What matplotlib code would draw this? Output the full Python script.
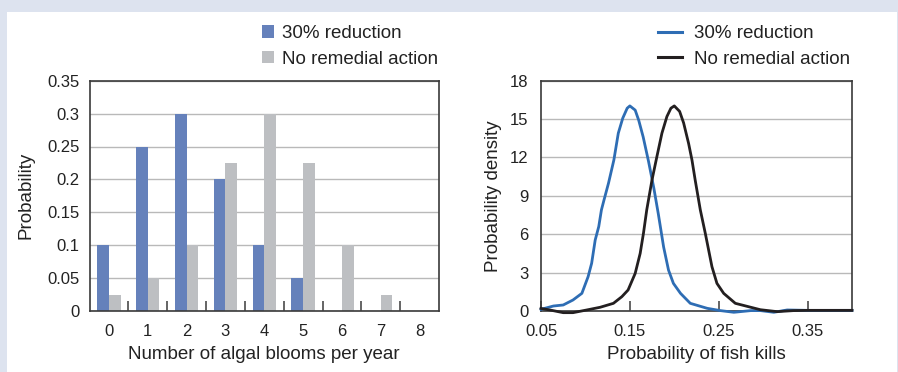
import matplotlib
matplotlib.use("Agg")
import matplotlib.pyplot as plt
from matplotlib.patches import Rectangle, Patch
from matplotlib.lines import Line2D

# ---------------- data ----------------
blooms = [0, 1, 2, 3, 4, 5, 6, 7, 8]
prob_reduction = [0.10, 0.25, 0.30, 0.20, 0.10, 0.05, 0.0, 0.0, 0.0]
prob_no_action = [0.025, 0.05, 0.10, 0.225, 0.30, 0.225, 0.10, 0.025, 0.0]

fish_x_reduction = [0.050, 0.064, 0.075, 0.086, 0.096, 0.103, 0.107, 0.111, 0.115, 0.118,
                    0.121, 0.126, 0.132, 0.137, 0.142, 0.147, 0.150, 0.156, 0.160, 0.165,
                    0.171, 0.177, 0.182, 0.188, 0.1935, 0.199, 0.207, 0.218, 0.237, 0.252,
                    0.267, 0.286, 0.297, 0.312, 0.327, 0.350, 0.400]
density_reduction = [0.13, 0.39, 0.47, 0.86, 1.38, 2.68, 3.73, 5.55, 6.6, 7.9,
                     8.7, 10.0, 11.8, 13.9, 15.07, 15.85, 16.03, 15.7, 14.9, 13.6,
                     11.7, 9.6, 7.6, 5.0, 3.2, 2.16, 1.38, 0.6, 0.21, 0.03,
                     -0.1, 0.03, 0.03, -0.1, 0.08, 0.05, 0.05]

fish_x_no_action = [0.050, 0.060, 0.075, 0.086, 0.1015, 0.1165, 0.1315, 0.141, 0.148, 0.156,
                    0.1616, 0.1653, 0.169, 0.1748, 0.1804, 0.1861, 0.1917, 0.1962, 0.200, 0.206,
                    0.2105, 0.2161, 0.2199, 0.2236, 0.2293, 0.2349, 0.2424, 0.248, 0.2556, 0.2687,
                    0.2856, 0.2969, 0.3157, 0.334, 0.350, 0.400]
density_no_action = [0.2, 0.08, -0.13, -0.13, 0.08, 0.29, 0.6, 1.12, 1.64, 2.94,
                     4.5, 6.07, 7.9, 10.2, 12.06, 13.9, 15.2, 15.85, 16.03, 15.6,
                     14.7, 13.1, 11.8, 10.2, 7.9, 6.07, 3.46, 2.16, 1.38, 0.6,
                     0.3, 0.1, -0.05, 0.03, 0.05, 0.05]

series_labels = ["30% reduction", "No remedial action"]
bar_yticks = [0, 0.05, 0.1, 0.15, 0.2, 0.25, 0.3, 0.35]
bar_yticklabels = ["0", "0.05", "0.1", "0.15", "0.2", "0.25", "0.3", "0.35"]
dens_yticks = [0, 3, 6, 9, 12, 15, 18]
dens_xticks = [0.05, 0.15, 0.25, 0.35]
dens_xticklabels = ["0.05", "0.15", "0.25", "0.35"]

# ---------------- style ----------------
plt.rcParams['font.family'] = ['Liberation Sans', 'DejaVu Sans']
BLUE_BAR = "#6581bb"
GRAY_BAR = "#bdbfc2"
BLUE_LINE = "#2e6db4"
BLACK_LINE = "#231f20"
GRID = "#b9b9b9"
SPINE = "#3a3a3a"
BAND = "#dde3ef"
TICK_FS = 12
LABEL_FS = 13.5

W, H = 898, 372
fig = plt.figure(figsize=(W / 100, H / 100), dpi=100, facecolor="white")

# light-blue frame bands
fig.patches.append(Rectangle((0, 1 - 12 / H), 1, 12 / H, transform=fig.transFigure,
                             facecolor=BAND, edgecolor="none", zorder=0))
fig.patches.append(Rectangle((0, 0), 7 / W, 1, transform=fig.transFigure,
                             facecolor=BAND, edgecolor="none", zorder=0))
fig.patches.append(Rectangle((897 / W, 0), 1 / W, 1, transform=fig.transFigure,
                             facecolor=BAND, edgecolor="none", zorder=0))


def px_axes(x0, x1, y0, y1):
    return fig.add_axes([x0 / W, 1 - y1 / H, (x1 - x0) / W, (y1 - y0) / H])


def style_axes(ax):
    for s in ax.spines.values():
        s.set_color(SPINE)
        s.set_linewidth(1.2)
    ax.set_axisbelow(True)
    ax.yaxis.grid(True, color=GRID, linewidth=1.0)
    ax.tick_params(axis='y', length=0, pad=7, labelsize=TICK_FS, colors="#222222")


# ---------------- left: bar chart ----------------
ax1 = px_axes(89.5, 439, 80.7, 311)
style_axes(ax1)
bw = 0.3
ax1.bar([b - bw / 2 for b in blooms], prob_reduction, width=bw, color=BLUE_BAR,
        label=series_labels[0], zorder=2)
ax1.bar([b + bw / 2 for b in blooms], prob_no_action, width=bw, color=GRAY_BAR,
        label=series_labels[1], zorder=2)
ax1.set_xlim(-0.5, 8.5)
ax1.set_ylim(0, 0.35)
ax1.set_yticks(bar_yticks)
ax1.set_yticklabels(bar_yticklabels)
ax1.set_xticks(blooms)
ax1.set_xticklabels([str(b) for b in blooms])
ax1.set_xticks([b + 0.5 for b in blooms[:-1]], minor=True)
ax1.tick_params(axis='x', which='major', length=0, pad=9, labelsize=TICK_FS, colors="#222222")
ax1.tick_params(axis='x', which='minor', direction='in', length=7, width=1.1, color=SPINE)
ax1.set_xlabel("Number of algal blooms per year", fontsize=LABEL_FS, color="#222222")
ax1.set_ylabel("Probability", fontsize=LABEL_FS, color="#222222")
ax1.xaxis.set_label_coords(0.5, -0.191)
ax1.xaxis.label.set_va('center')
ax1.yaxis.set_label_coords(-0.182, 0.5)
ax1.yaxis.label.set_va('center')

h1 = [Patch(facecolor=BLUE_BAR), Patch(facecolor=GRAY_BAR)]
fig.legend(h1, series_labels, loc='upper left', bbox_to_anchor=(262 / W, 1 - 25 / H),
           frameon=False, fontsize=LABEL_FS, borderpad=0, borderaxespad=0,
           handlelength=0.64, handleheight=0.64, handletextpad=0.43, labelspacing=0.46,
           labelcolor="#222222")

# ---------------- right: density chart ----------------
ax2 = px_axes(541, 852, 80.7, 311)
style_axes(ax2)
ax2.plot(fish_x_reduction, density_reduction, color=BLUE_LINE, linewidth=2.0,
         label=series_labels[0], zorder=3, clip_on=False)
ax2.plot(fish_x_no_action, density_no_action, color=BLACK_LINE, linewidth=2.0,
         label=series_labels[1], zorder=3, clip_on=False)
ax2.set_xlim(0.05, 0.40)
ax2.set_ylim(0, 18)
ax2.set_yticks(dens_yticks)
ax2.set_xticks(dens_xticks)
ax2.set_xticklabels(dens_xticklabels)
ax2.tick_params(axis='x', direction='in', length=7, width=1.1, color=SPINE, pad=9,
                labelsize=TICK_FS, labelcolor="#222222")
ax2.tick_params(axis='y', pad=9)
ax2.set_xlabel("Probability of fish kills", fontsize=LABEL_FS, color="#222222")
ax2.set_ylabel("Probability density", fontsize=LABEL_FS, color="#222222")
ax2.xaxis.set_label_coords(0.5, -0.191)
ax2.xaxis.label.set_va('center')
ax2.yaxis.set_label_coords(-0.154, 0.5)
ax2.yaxis.label.set_va('center')

h2 = [Line2D([], [], color=BLUE_LINE, linewidth=2.2), Line2D([], [], color=BLACK_LINE, linewidth=2.2)]
fig.legend(h2, series_labels, loc='upper left', bbox_to_anchor=(658 / W, 1 - 25 / H),
           frameon=False, fontsize=LABEL_FS, borderpad=0, borderaxespad=0,
           handlelength=1.28, handletextpad=0.64, labelspacing=0.46,
           labelcolor="#222222")

fig.savefig("out.png", dpi=100, facecolor="white")
